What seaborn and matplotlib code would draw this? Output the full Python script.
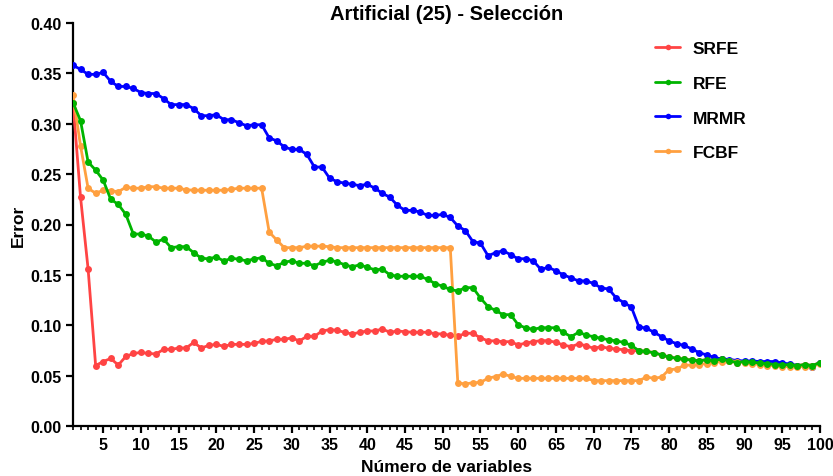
import numpy as np
import pandas as pd
import matplotlib
matplotlib.use("Agg")
import matplotlib.pyplot as plt
from matplotlib.ticker import MultipleLocator, FormatStrFormatter
import seaborn as sns

n_vars = list(range(1, 101))

srfe = [0.321, 0.227, 0.156, 0.060, 0.064, 0.067, 0.0605, 0.069, 0.072, 0.073,
        0.072, 0.0715, 0.076, 0.076, 0.0774, 0.0774, 0.083, 0.0774, 0.080, 0.081,
        0.079, 0.081, 0.081, 0.081, 0.082, 0.084, 0.0845, 0.086, 0.086, 0.0875,
        0.0844, 0.089, 0.089, 0.0943, 0.0956, 0.095, 0.093, 0.0913, 0.093, 0.0943,
        0.0943, 0.0963, 0.093, 0.0943, 0.0936, 0.093, 0.093, 0.093, 0.0916, 0.0913,
        0.090, 0.089, 0.092, 0.092, 0.0875, 0.0845, 0.0845, 0.0837, 0.0837, 0.0804,
        0.0824, 0.0837, 0.0847, 0.0847, 0.083, 0.0804, 0.0787, 0.0814, 0.0797, 0.0771,
        0.0787, 0.0771, 0.0764, 0.0757, 0.0747, 0.0747, 0.074, 0.0728, 0.0705, 0.0685,
        0.0672, 0.0662, 0.0655, 0.0648, 0.0658, 0.065, 0.0665, 0.0645, 0.063, 0.064,
        0.0635, 0.0625, 0.062, 0.061, 0.0605, 0.061, 0.060, 0.061, 0.060, 0.063]

rfe = [0.321, 0.303, 0.262, 0.254, 0.244, 0.225, 0.220, 0.210, 0.1905, 0.1905,
       0.1885, 0.1825, 0.1855, 0.177, 0.178, 0.178, 0.172, 0.1667, 0.1658, 0.168,
       0.1635, 0.1667, 0.1654, 0.164, 0.1658, 0.167, 0.1615, 0.159, 0.1625, 0.164,
       0.1615, 0.1615, 0.159, 0.1625, 0.1645, 0.163, 0.160, 0.158, 0.160, 0.1575,
       0.155, 0.1557, 0.150, 0.1486, 0.1486, 0.1486, 0.1486, 0.1456, 0.1413, 0.1387,
       0.1355, 0.134, 0.1373, 0.1373, 0.127, 0.1185, 0.1147, 0.1105, 0.1105, 0.1005,
       0.0973, 0.096, 0.0975, 0.0975, 0.0975, 0.093, 0.0886, 0.093, 0.0903, 0.0886,
       0.087, 0.0857, 0.0844, 0.083, 0.080, 0.0747, 0.074, 0.0728, 0.0705, 0.0685,
       0.0672, 0.0662, 0.0655, 0.0648, 0.0658, 0.065, 0.0665, 0.0645, 0.063, 0.064,
       0.0635, 0.0625, 0.062, 0.061, 0.0605, 0.061, 0.060, 0.061, 0.060, 0.063]

mrmr = [0.358, 0.354, 0.349, 0.349, 0.351, 0.342, 0.337, 0.337, 0.335, 0.331,
        0.330, 0.330, 0.325, 0.319, 0.319, 0.319, 0.315, 0.308, 0.308, 0.309,
        0.304, 0.304, 0.301, 0.298, 0.299, 0.299, 0.286, 0.283, 0.277, 0.2745,
        0.2745, 0.2695, 0.257, 0.257, 0.246, 0.2425, 0.241, 0.240, 0.2385, 0.240,
        0.236, 0.231, 0.227, 0.219, 0.214, 0.214, 0.2125, 0.209, 0.209, 0.210,
        0.207, 0.1985, 0.194, 0.183, 0.1815, 0.169, 0.172, 0.174, 0.170, 0.166,
        0.166, 0.164, 0.1555, 0.1575, 0.154, 0.150, 0.147, 0.144, 0.144, 0.1415,
        0.137, 0.136, 0.127, 0.1225, 0.118, 0.0985, 0.097, 0.093, 0.0887, 0.0845,
        0.0817, 0.080, 0.0765, 0.0728, 0.0705, 0.068, 0.0665, 0.066, 0.065, 0.0645,
        0.0645, 0.064, 0.064, 0.064, 0.0625, 0.0615, 0.060, 0.060, 0.059, 0.063]

fcbf = [0.3285, 0.278, 0.236, 0.231, 0.234, 0.2335, 0.2325, 0.237, 0.236, 0.236,
        0.2375, 0.2375, 0.236, 0.236, 0.236, 0.2345, 0.234, 0.234, 0.234, 0.234,
        0.234, 0.235, 0.236, 0.236, 0.236, 0.236, 0.1925, 0.1846, 0.177, 0.177,
        0.177, 0.1785, 0.1785, 0.1785, 0.178, 0.177, 0.177, 0.177, 0.177, 0.177,
        0.177, 0.177, 0.177, 0.177, 0.177, 0.177, 0.177, 0.177, 0.177, 0.177,
        0.177, 0.0428, 0.0417, 0.043, 0.0432, 0.0475, 0.049, 0.0516, 0.0493, 0.0473,
        0.0473, 0.0473, 0.0473, 0.0473, 0.0473, 0.0473, 0.0473, 0.0473, 0.0473, 0.045,
        0.045, 0.045, 0.045, 0.045, 0.045, 0.045, 0.0486, 0.0473, 0.0486, 0.0559,
        0.0565, 0.0603, 0.0605, 0.061, 0.062, 0.063, 0.064, 0.065, 0.064, 0.063,
        0.062, 0.061, 0.060, 0.060, 0.059, 0.059, 0.059, 0.059, 0.059, 0.062]

series = {"SRFE": srfe, "RFE": rfe, "MRMR": mrmr, "FCBF": fcbf}
colors = {"SRFE": "#FF4444", "RFE": "#00B400", "MRMR": "#0000FF", "FCBF": "#FFA040"}
legend_order = ["SRFE", "RFE", "MRMR", "FCBF"]
draw_order = ["SRFE", "MRMR", "FCBF", "RFE"]

title = "Artificial (25) - Selección"
xlabel = "Número de variables"
ylabel = "Error"

sns.set_theme(style="ticks")
plt.rcParams["font.family"] = ["Liberation Sans", "DejaVu Sans"]
plt.rcParams["font.weight"] = "bold"
for key in ["text.color", "axes.labelcolor", "xtick.color", "ytick.color", "axes.edgecolor"]:
    plt.rcParams[key] = "black"

fig = plt.figure(figsize=(8.33, 4.77), dpi=100)
ax = fig.add_axes([73 / 833, 50 / 477, 747 / 833, 403 / 477])

handles = {}
for z, name in enumerate(draw_order):
    df = pd.DataFrame({"x": n_vars, "y": series[name]})
    sns.lineplot(data=df, x="x", y="y", ax=ax, color=colors[name], marker="o",
                 markersize=5, markeredgewidth=0, linewidth=2, label=name,
                 zorder=3 + z, legend=False)
    handles[name] = ax.lines[-1]

ax.set_xlim(1, 100)
ax.set_ylim(0, 0.40)
ax.xaxis.set_major_locator(MultipleLocator(5))
ax.xaxis.set_minor_locator(MultipleLocator(1))
ax.yaxis.set_major_locator(MultipleLocator(0.05))
ax.yaxis.set_major_formatter(FormatStrFormatter("%.2f"))
ax.set_xticks(list(range(5, 101, 5)))

for side in ["top", "right"]:
    ax.spines[side].set_visible(False)
for side in ["left", "bottom"]:
    ax.spines[side].set_linewidth(1.6)
    ax.spines[side].set_color("black")
ax.tick_params(axis="both", which="major", direction="out", length=5, width=1.6,
               labelsize=11.5, colors="black", pad=3)
ax.tick_params(axis="x", which="minor", direction="out", length=3, width=1.2, colors="black")
for lab in ax.get_xticklabels() + ax.get_yticklabels():
    lab.set_fontweight("bold")

ax.set_title(title, fontsize=14.5, fontweight="bold", pad=-0.5)
ax.set_xlabel(xlabel, fontsize=12.5, fontweight="bold", labelpad=5)
ax.set_ylabel(ylabel, fontsize=12.5, fontweight="bold", labelpad=3.5)

leg = ax.legend([handles[n] for n in legend_order], legend_order, loc="upper left",
                bbox_to_anchor=(0.770, 0.973), borderaxespad=0, frameon=False,
                handlelength=1.45, labelspacing=1.13, handletextpad=0.7,
                prop={"weight": "bold", "size": 12.5})
for line in leg.get_lines():
    line.set_markersize(4)

fig.savefig("out.png", dpi=100)
